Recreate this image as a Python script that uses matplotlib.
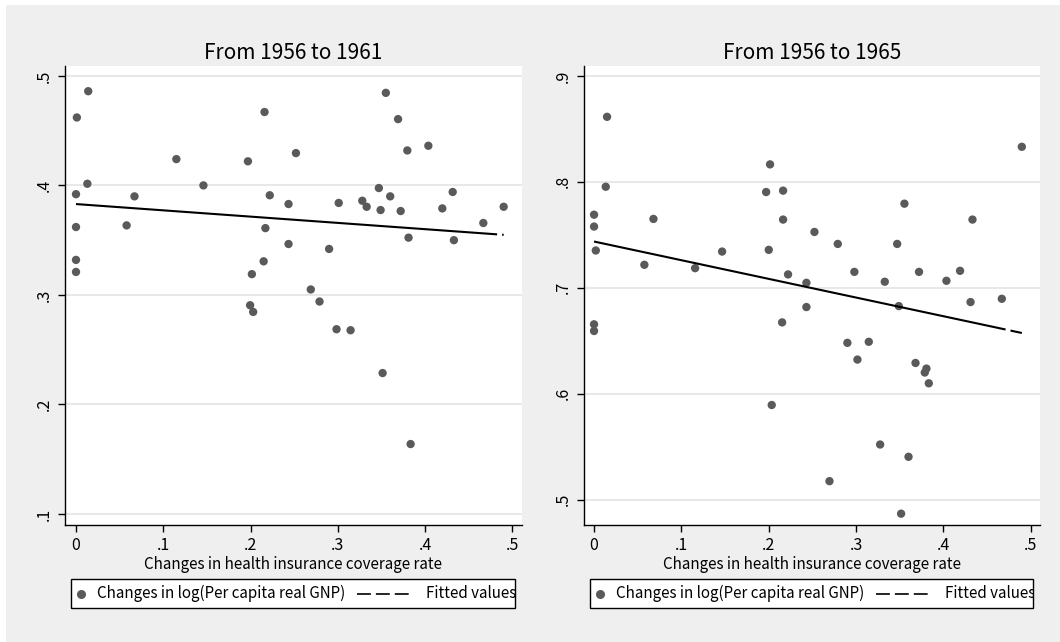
import numpy as np
import matplotlib
matplotlib.use("Agg")
import matplotlib.pyplot as plt
from matplotlib.lines import Line2D
from matplotlib.patches import Rectangle
from matplotlib.ticker import FuncFormatter

plt.rcParams['font.family'] = ['Noto Sans CJK JP', 'DejaVu Sans']
plt.rcParams['lines.scale_dashes'] = False

# 1956 -> 1961
cov_61 = [0.000, 0.001, 0.014, 0.013, 0.000, 0.000, 0.000, 0.115, 0.146, 0.067,
          0.058, 0.197, 0.216, 0.222, 0.2435, 0.252, 0.217, 0.2435, 0.215, 0.2015,
          0.1995, 0.203, 0.269, 0.279, 0.290, 0.301, 0.2985, 0.3146, 0.328, 0.333,
          0.347, 0.349, 0.355, 0.360, 0.369, 0.372, 0.3796, 0.381, 0.4037, 0.4197,
          0.4316, 0.433, 0.4667, 0.490, 0.3513, 0.3834]
gnp_61 = [0.392, 0.462, 0.486, 0.4015, 0.362, 0.332, 0.321, 0.424, 0.400, 0.390,
          0.3635, 0.422, 0.467, 0.391, 0.383, 0.4295, 0.361, 0.3465, 0.3307, 0.319,
          0.2906, 0.2845, 0.305, 0.294, 0.342, 0.384, 0.2687, 0.2678, 0.386, 0.3805,
          0.3976, 0.3775, 0.4845, 0.390, 0.4605, 0.3766, 0.4319, 0.3523, 0.4362, 0.379,
          0.394, 0.350, 0.3657, 0.3805, 0.2287, 0.1639]

# 1956 -> 1965
cov_65 = [0.0149, 0.0134, 0.000, 0.000, 0.002, 0.000, 0.000, 0.068, 0.0576, 0.1157,
          0.1466, 0.2015, 0.197, 0.2164, 0.2164, 0.200, 0.2221, 0.2523, 0.2431, 0.2431,
          0.2153, 0.279, 0.298, 0.290, 0.3145, 0.3328, 0.347, 0.3553, 0.3489, 0.372,
          0.4034, 0.419, 0.431, 0.4332, 0.4668, 0.4897, 0.3015, 0.368, 0.3805, 0.3786,
          0.3832, 0.2034, 0.3275, 0.360, 0.2695, 0.3515]
gnp_65 = [0.8614, 0.7954, 0.769, 0.7578, 0.7352, 0.6655, 0.6592, 0.765, 0.7217, 0.7185,
          0.7342, 0.8165, 0.7904, 0.7917, 0.7644, 0.7358, 0.7126, 0.7527, 0.7047, 0.6818,
          0.6673, 0.7414, 0.715, 0.648, 0.649, 0.7057, 0.7414, 0.7794, 0.6827, 0.715,
          0.7066, 0.716, 0.6865, 0.7644, 0.6896, 0.8331, 0.6322, 0.629, 0.6237, 0.620,
          0.6098, 0.5893, 0.552, 0.5404, 0.5174, 0.4867]

titles = ["From 1956 to 1961", "From 1956 to 1965"]
x_ticks = [0, 0.1, 0.2, 0.3, 0.4, 0.5]
y_ticks = [[0.1, 0.2, 0.3, 0.4, 0.5], [0.5, 0.6, 0.7, 0.8, 0.9]]
xlabel = "Changes in health insurance coverage rate"
dot_label = "Changes in log(Per capita real GNP)"
fit_label = "Fitted values"

W, H = 1060, 642
bg = "#efefef"
dot_color = "#5a5a5a"

fig = plt.figure(figsize=(W / 100, H / 100), dpi=100, facecolor="white")
fig.patches.append(Rectangle((6 / W, 0), 1, (H - 5) / H, transform=fig.transFigure,
                             facecolor=bg, edgecolor="none", zorder=-10))


def fx(px):
    return px / W


def fy(py):
    return 1 - py / H


def stata_fmt(v, pos):
    s = "%g" % round(v, 2)
    return s[1:] if s.startswith("0.") else s


# (left px, right px, xlim, ylim, first dash length in pt, legend left/right px)
panels = [
    (65, 522, (-0.0126, 0.511), (0.09, 0.509), 304, 71, 515),
    (584, 1040, (-0.0115, 0.5105), (0.476, 0.9094), 303, 590, 1033),
]
data = [(cov_61, gnp_61), (cov_65, gnp_65)]

for i, ((x0, x1, xl, yl, dash, l0, l1), (xs, ys)) in enumerate(zip(panels, data)):
    ax = fig.add_axes([x0 / W, 117 / H, (x1 - x0) / W, 459 / H])
    ax.set_facecolor("white")
    xs = np.array(xs)
    ys = np.array(ys)

    ax.scatter(xs, ys, s=36, color=dot_color, edgecolors="none", zorder=3)

    b, a = np.polyfit(xs, ys, 1)
    line_x = np.array([xs.min(), xs.max()])
    ax.plot(line_x, a + b * line_x, color="black", lw=1.5,
            linestyle=(0, (dash, 3.6)), zorder=4)

    ax.set_xlim(*xl)
    ax.set_ylim(*yl)
    ax.set_xticks(x_ticks)
    ax.set_yticks(y_ticks[i])
    ax.xaxis.set_major_formatter(FuncFormatter(stata_fmt))
    ax.yaxis.set_major_formatter(FuncFormatter(stata_fmt))
    ax.grid(axis="y", color="#e4e4e4", lw=1.2)
    ax.set_axisbelow(True)
    for side in ("top", "right"):
        ax.spines[side].set_visible(False)
    for side in ("left", "bottom"):
        ax.spines[side].set_linewidth(1.0)
    ax.tick_params(length=5, width=1, labelsize=11.5, pad=4)
    for lab in ax.get_yticklabels():
        lab.set_rotation(90)
        lab.set_va("center")
    ax.set_title(titles[i], fontsize=15, pad=5)
    ax.set_xlabel(xlabel, fontsize=10.9, labelpad=1)

    # legend box under each panel
    frame = Rectangle((fx(l0), fy(608)), fx(l1) - fx(l0), fy(579) - fy(608),
                      transform=fig.transFigure, facecolor="white",
                      edgecolor="black", lw=1.0)
    fig.patches.append(frame)
    cy = fy(593.5)
    fig.lines.append(Line2D([fx(l0 + 10)], [cy], marker="o", ms=5.5,
                            color=dot_color, linestyle="none",
                            transform=fig.transFigure))
    fig.text(fx(l0 + 26), cy, dot_label, fontsize=10.9, va="center", ha="left")
    fig.lines.append(Line2D([fx(l0 + 286), fx(l0 + 338)], [cy, cy], color="black",
                            lw=1.2, linestyle=(0, (10, 3.6)),
                            transform=fig.transFigure))
    t = fig.text(fx(l0 + 355), cy, fit_label, fontsize=10.9, va="center", ha="left")
    t.set_clip_path(frame)

fig.savefig("out.png", dpi=100, facecolor=fig.get_facecolor())
